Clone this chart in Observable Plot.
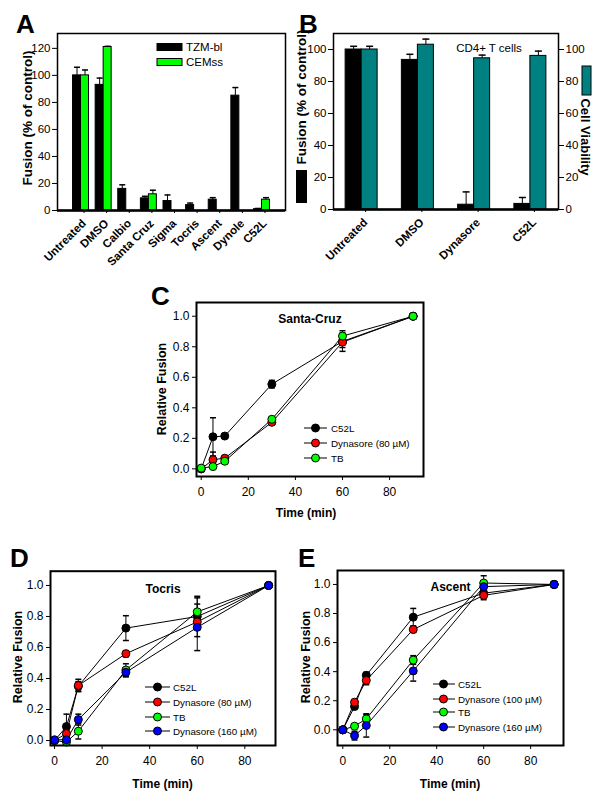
<!DOCTYPE html>
<html><head><meta charset="utf-8">
<script src="https://cdn.jsdelivr.net/npm/d3@7"></script>
<script src="https://cdn.jsdelivr.net/npm/@observablehq/plot@0.6"></script>
<style>
html,body{margin:0;padding:0;background:#fff;}
#fig{position:relative;width:600px;height:804px;overflow:hidden;background:#fff;font-family:'Liberation Sans',Arial,Helvetica,sans-serif;}
#fig svg{max-width:none;}
</style></head>
<body><div id="fig"></div>
<script>
// ---------- Panel A data ----------
const catsA = ["Untreated","DMSO","Calbio","Santa Cruz","Sigma","Tocris","Ascent","Dynole","C52L"];
const tzmValues = [100, 93, 16, 9, 7, 4, 8, 85, 1];
const tzmErrors = [6, 5, 3, 1.5, 4.5, 1.5, 1.5, 6, 0.5];
const cemValues = [100, 121, null, 12, null, null, null, null, 8];
const cemErrors = [4, 0.5, null, 3, null, null, null, null, 1.5];
const seriesA = ["TZM-bl", "CEMss"];

// ---------- Panel B data ----------
const catsB = ["Untreated","DMSO","Dynasore","C52L"];
const fusionB = [100, 93.5, 3, 3.5];
const fusionErrB = [2, 3.5, 8, 4];
const viabB = [100, 103, 94.5, 96];
const viabErrB = [2, 3.5, 2, 3];

// ---------- Time course data ----------
const times = [0, 5, 10, 30, 60, 90];
const namesC = ["C52L", "Dynasore (80 \u00b5M)", "TB"];
const valuesC = [
  [0, 0.21, 0.215, 0.555, 0.835, 1.0],
  [0, 0.06, 0.07, 0.305, 0.83, 1.0],
  [0.005, 0.015, 0.05, 0.325, 0.87, 1.0]
];
const errorsC = [
  [0, 0.125, 0.01, 0.025, 0.04, 0],
  [0, 0.05, 0.01, 0.01, 0.06, 0],
  [0, 0.01, 0.01, 0.01, 0.035, 0]
];
const namesD = ["C52L", "Dynasore (80 \u00b5M)", "TB", "Dynasore (160 \u00b5M)"];
const valuesD = [
  [0, 0.09, 0.35, 0.725, 0.80, 1.0],
  [0, 0.045, 0.355, 0.56, 0.765, 1.0],
  [0, -0.01, 0.06, 0.455, 0.83, 1.0],
  [0.005, 0.005, 0.135, 0.44, 0.73, 1.0]
];
const errorsD = [
  [0, 0.08, 0.03, 0.08, 0.13, 0],
  [0, 0.03, 0.04, 0.02, 0.03, 0],
  [0, 0.02, 0.05, 0.04, 0.09, 0],
  [0, 0.02, 0.035, 0.03, 0.15, 0]
];
const namesE = ["C52L", "Dynasore (100 \u00b5M)", "TB", "Dynasore (160 \u00b5M)"];
const valuesE = [
  [0, 0.16, 0.375, 0.775, 0.94, 1.0],
  [0, 0.19, 0.34, 0.69, 0.925, 1.0],
  [0, 0.025, 0.075, 0.48, 1.01, 1.0],
  [0, -0.04, 0.03, 0.405, 0.985, 1.0]
];
const errorsE = [
  [0, 0.01, 0.02, 0.06, 0.03, 0],
  [0, 0.01, 0.03, 0.02, 0.03, 0],
  [0, 0.01, 0.03, 0.03, 0.05, 0],
  [0, 0.03, 0.08, 0.07, 0.03, 0]
];
const seriesColors = ["#000000", "#ff0000", "#00ff00", "#0000ff"];
const xTicks = [0, 20, 40, 60, 80];
const yTicksRel = [0, 0.2, 0.4, 0.6, 0.8, 1.0];
const yTicksA = [0, 20, 40, 60, 80, 100, 120];
const yTicksB = [0, 20, 40, 60, 80, 100];

// ---------- helpers ----------
const FONT = "'Liberation Sans', Arial, Helvetica, sans-serif";
const fig = document.getElementById("fig");
function place(el, left, top) {
  el.style.position = "absolute";
  el.style.left = left + "px";
  el.style.top = top + "px";
  fig.appendChild(el);
}
const cap = {draw(ctx, size) { const w = Math.sqrt(size / Math.PI); ctx.moveTo(-w, 0); ctx.lineTo(w, 0); }};
const baseStyle = {background: "transparent", fontFamily: FONT, fontSize: "12px", color: "#000", overflow: "visible"};

// ---------- Panel A ----------
{
  const W = 300, H = 262, ml = 57, mr = 15, mt = 33, mb = 52;
  const po = 0.54;
  const bw = (W - ml - mr) / (catsA.length + 2 * po);
  const rowsT = catsA.map((cat, i) => ({cat, value: tzmValues[i], err: tzmErrors[i]}));
  const rowsC = catsA.map((cat, i) => ({cat, value: cemValues[i], err: cemErrors[i]})).filter(d => d.value != null);
  const p = Plot.plot({
    width: W, height: H, marginLeft: ml, marginRight: mr, marginTop: mt, marginBottom: mb,
    style: baseStyle,
    x: {domain: catsA, paddingInner: 0, paddingOuter: po, round: false},
    y: {domain: [0, 131]},
    marks: [
      Plot.ruleX(rowsT, {x: "cat", y1: "value", y2: d => d.value + d.err, dx: -4, stroke: "#000"}),
      Plot.dot(rowsT, {x: "cat", y: d => d.value + d.err, dx: -4, symbol: cap, r: 3, stroke: "#000", fill: "none"}),
      Plot.ruleX(rowsC, {x: "cat", y1: "value", y2: d => d.value + d.err, dx: 4, stroke: "#000"}),
      Plot.dot(rowsC, {x: "cat", y: d => d.value + d.err, dx: 4, symbol: cap, r: 3, stroke: "#000", fill: "none"}),
      Plot.barY(rowsT, {x: "cat", y: "value", fill: "#000", stroke: "#000", strokeWidth: 1, insetLeft: bw / 2 - 8, insetRight: bw / 2}),
      Plot.barY(rowsC, {x: "cat", y: "value", fill: "#00ff00", stroke: "#000", strokeWidth: 1, insetLeft: bw / 2, insetRight: bw / 2 - 8}),
      Plot.frame({stroke: "#000", strokeWidth: 1.5}),
      Plot.ruleY([0], {stroke: "#000", strokeWidth: 2.5}),
      Plot.axisY({ticks: yTicksA, tickSize: 5, tickPadding: 2, fontSize: 11.5, label: null}),
      Plot.axisX({tickRotate: -45, tickSize: 3, tickPadding: 8, dx: 3, fontSize: 11.5, fontWeight: "bold", label: null})
    ]
  });
  place(p, 0, 0);
}

// ---------- Panel B ----------
{
  const W = 300, H = 262, ml = 33, mr = 42, mt = 33, mb = 53;
  const bw = (W - ml - mr) / catsB.length;
  const rowsF = catsB.map((cat, i) => ({cat, value: fusionB[i], err: fusionErrB[i]}));
  const rowsV = catsB.map((cat, i) => ({cat, value: viabB[i], err: viabErrB[i]}));
  const p = Plot.plot({
    width: W, height: H, marginLeft: ml, marginRight: mr, marginTop: mt, marginBottom: mb,
    style: baseStyle,
    x: {domain: catsB, paddingInner: 0, paddingOuter: 0, round: false},
    y: {domain: [0, 110]},
    marks: [
      Plot.ruleX(rowsF, {x: "cat", y1: "value", y2: d => d.value + d.err, dx: -8, stroke: "#000"}),
      Plot.dot(rowsF, {x: "cat", y: d => d.value + d.err, dx: -8, symbol: cap, r: 3.5, stroke: "#000", fill: "none"}),
      Plot.ruleX(rowsV, {x: "cat", y1: "value", y2: d => d.value + d.err, dx: 8, stroke: "#000"}),
      Plot.dot(rowsV, {x: "cat", y: d => d.value + d.err, dx: 8, symbol: cap, r: 3.5, stroke: "#000", fill: "none"}),
      Plot.barY(rowsF, {x: "cat", y: "value", fill: "#000", stroke: "#000", insetLeft: bw / 2 - 16, insetRight: bw / 2}),
      Plot.barY(rowsV, {x: "cat", y: "value", fill: "#008080", stroke: "#000", insetLeft: bw / 2, insetRight: bw / 2 - 16}),
      Plot.text(["CD4+ T cells"], {frameAnchor: "top", dy: 10, dx: 43, fontSize: 11.5, fill: "#000"}),
      Plot.frame({stroke: "#000", strokeWidth: 1.5}),
      Plot.ruleY([0], {stroke: "#000", strokeWidth: 2.5}),
      Plot.axisY({ticks: yTicksB, tickSize: 5, tickPadding: 2, fontSize: 11.5, label: null}),
      Plot.axisY({anchor: "right", ticks: yTicksB, tickSize: 5, tickPadding: 2, fontSize: 11.5, label: null}),
      Plot.axisX({tickRotate: -45, tickSize: 3, tickPadding: 8, dx: 4, fontSize: 11.5, fontWeight: "bold", label: null})
    ]
  });
  place(p, 300, 0);
}

// ---------- Time-course panels ----------
function timePanel({names, values, errors, title, xDomain, yDomain, W, H, ml, mr, mt, mb, left, top, titleDy}) {
  const rows = names.flatMap((series, s) => times.map((time, i) => ({series, time, value: values[s][i], err: errors[s][i]})));
  const errRows = rows.filter(d => d.err > 0);
  const p = Plot.plot({
    width: W, height: H, marginLeft: ml, marginRight: mr, marginTop: mt, marginBottom: mb,
    style: baseStyle,
    x: {domain: xDomain},
    y: {domain: yDomain},
    color: {domain: names, range: seriesColors.slice(0, names.length)},
    marks: [
      Plot.line(rows, {x: "time", y: "value", z: "series", stroke: "#000", strokeWidth: 1}),
      Plot.ruleX(errRows, {x: "time", y1: d => d.value - d.err, y2: d => d.value + d.err, stroke: "#000", strokeWidth: 1}),
      Plot.dot(errRows, {x: "time", y: d => d.value + d.err, symbol: cap, r: 3, stroke: "#000", fill: "none"}),
      Plot.dot(errRows, {x: "time", y: d => d.value - d.err, symbol: cap, r: 3, stroke: "#000", fill: "none"}),
      Plot.dot(rows, {x: "time", y: "value", fill: "series", stroke: "#000", strokeWidth: 1, r: 4}),
      Plot.text([title], {frameAnchor: "top", dy: titleDy, fontSize: 12, fontWeight: "bold", fill: "#000"}),
      Plot.frame({stroke: "#000", strokeWidth: 2}),
      Plot.axisX({ticks: xTicks, tickSize: 4, tickPadding: 7, fontSize: 12, label: null}),
      Plot.axisY({ticks: yTicksRel, tickFormat: d3.format(".1f"), tickSize: 4, tickPadding: 3, fontSize: 12, label: null})
    ]
  });
  place(p, left, top);
}
timePanel({names: namesC, values: valuesC, errors: errorsC, title: "Santa-Cruz",
  xDomain: [-2.0, 94.4], yDomain: [-0.05, 1.09], W: 300, H: 230, ml: 46, mr: 27, mt: 22, mb: 34, left: 150, top: 280, titleDy: 12});
timePanel({names: namesD, values: valuesD, errors: errorsD, title: "Tocris",
  xDomain: [-1.7, 92.9], yDomain: [-0.032, 1.092], W: 300, H: 264, ml: 50, mr: 25, mt: 30.7, mb: 59, left: 0, top: 540, titleDy: 13});
timePanel({names: namesE, values: valuesE, errors: errorsE, title: "Ascent",
  xDomain: [-2.26, 94.0], yDomain: [-0.108, 1.096], W: 300, H: 264, ml: 37, mr: 37, mt: 30, mb: 59, left: 300, top: 540, titleDy: 12});

// ---------- Annotation overlay (titles, letters, legends) ----------
const svg = d3.create("svg").attr("width", 600).attr("height", 804)
  .style("position", "absolute").style("left", "0px").style("top", "0px")
  .style("pointer-events", "none").style("font-family", FONT);
function txt(x, y, s, {size = 12, weight = "normal", anchor = "start", rotate = 0, baseline = "central"} = {}) {
  svg.append("text").attr("transform", `translate(${x},${y}) rotate(${rotate})`)
    .attr("text-anchor", anchor).attr("dominant-baseline", baseline)
    .attr("font-size", size).attr("font-weight", weight).attr("fill", "#000").text(s);
}
// panel letters
txt(16, 33, "A", {size: 26, weight: "bold", baseline: "alphabetic"});
txt(299, 33, "B", {size: 26, weight: "bold", baseline: "alphabetic"});
txt(151, 305, "C", {size: 26, weight: "bold", baseline: "alphabetic"});
txt(10, 567, "D", {size: 26, weight: "bold", baseline: "alphabetic"});
txt(298, 567, "E", {size: 26, weight: "bold", baseline: "alphabetic"});
// axis titles
txt(27, 118, "Fusion (% of control)", {size: 13.5, weight: "bold", anchor: "middle", rotate: -90});
txt(301, 97, "Fusion (% of control)", {size: 13.5, weight: "bold", anchor: "middle", rotate: -90});
svg.append("rect").attr("x", 296).attr("y", 170).attr("width", 11).attr("height", 33).attr("fill", "#000");
txt(585, 137, "Cell Viability", {size: 13, weight: "bold", anchor: "middle", rotate: 90});
svg.append("rect").attr("x", 582).attr("y", 66).attr("width", 9).attr("height", 29).attr("fill", "#008080").attr("stroke", "#000");
txt(162, 389, "Relative Fusion", {size: 12.5, weight: "bold", anchor: "middle", rotate: -90});
txt(18, 657, "Relative Fusion", {size: 12.5, weight: "bold", anchor: "middle", rotate: -90});
txt(306, 657, "Relative Fusion", {size: 12.5, weight: "bold", anchor: "middle", rotate: -90});
txt(306, 513, "Time (min)", {size: 12, weight: "bold", anchor: "middle"});
txt(162.5, 784, "Time (min)", {size: 12, weight: "bold", anchor: "middle"});
txt(450, 784, "Time (min)", {size: 12, weight: "bold", anchor: "middle"});
// legend A
[["#000", seriesA[0], 47], ["#00ff00", seriesA[1], 62]].forEach(([c, s, y]) => {
  svg.append("rect").attr("x", 157).attr("y", y - 3.5).attr("width", 25).attr("height", 7).attr("fill", c).attr("stroke", "#000");
  txt(186, y, s, {size: 11.5});
});
// legends C/D/E
function lineLegend(names, x1, x2, xm, xt, ys) {
  names.forEach((s, i) => {
    svg.append("line").attr("x1", x1).attr("x2", x2).attr("y1", ys[i]).attr("y2", ys[i]).attr("stroke", "#000");
    svg.append("circle").attr("cx", xm).attr("cy", ys[i]).attr("r", 4).attr("fill", seriesColors[i]).attr("stroke", "#000");
    txt(xt, ys[i], s, {size: 9.8});
  });
}
lineLegend(namesC, 304, 327, 315.5, 331, [428, 443, 458]);
lineLegend(namesD, 145, 170, 157.5, 173, [687, 702, 717, 731]);
lineLegend(namesE, 433, 455, 443.5, 458, [684, 699, 712, 727]);
fig.appendChild(svg.node());
</script>
</body></html>
